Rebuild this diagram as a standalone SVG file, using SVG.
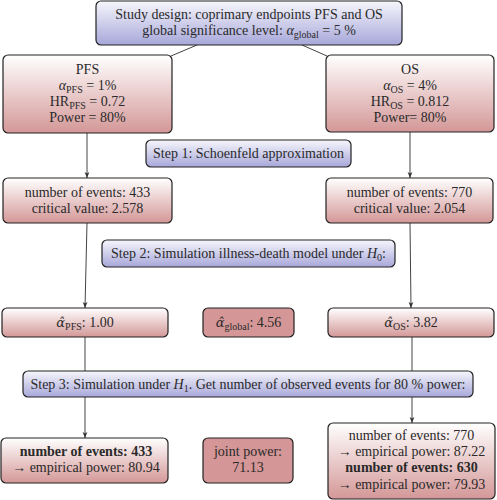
<svg xmlns="http://www.w3.org/2000/svg" width="497" height="500" viewBox="0 0 497 500">
<defs>
<linearGradient id="gRed" x1="0" y1="0" x2="0" y2="1">
<stop offset="0" stop-color="#ffffff"/>
<stop offset="1" stop-color="#d49797"/>
</linearGradient>
<linearGradient id="gBlue" x1="0" y1="0" x2="0" y2="1">
<stop offset="0" stop-color="#f6f6fc"/>
<stop offset="1" stop-color="#a7a7da"/>
</linearGradient>
<marker id="arr" viewBox="0 0 10 10" refX="10" refY="5" markerWidth="6" markerHeight="6" orient="auto" markerUnits="userSpaceOnUse">
<path d="M0,1 L10,5 L0,9 L2.5,5 Z" fill="#333"/>
</marker>
<style>
.red{fill:url(#gRed);stroke:#222;stroke-width:1.2}
.blue{fill:url(#gBlue);stroke:#222;stroke-width:1.2}
.solid{fill:#d49696;stroke:#222;stroke-width:1.2}
text{font-size:14px;fill:#2a2a2a;text-anchor:middle}
.sub{font-size:10px}
.b{font-weight:bold}
.hat{font-family:"DejaVu Serif",serif;font-style:italic;font-size:13px}
.ln{stroke:#444;stroke-width:1;fill:none}
</style>
</defs>
<g id="connectors">
<line class="ln" x1="197" y1="45" x2="171" y2="56"/>
<line class="ln" x1="302" y1="45" x2="327" y2="56"/>
<line class="ln" x1="87" y1="133" x2="87" y2="178" marker-end="url(#arr)"/>
<line class="ln" x1="410" y1="132" x2="410" y2="178" marker-end="url(#arr)"/>
<line class="ln" x1="87" y1="223" x2="85" y2="308" marker-end="url(#arr)"/>
<line class="ln" x1="410" y1="223" x2="411" y2="308" marker-end="url(#arr)"/>
<line class="ln" x1="85" y1="337" x2="85" y2="438" marker-end="url(#arr)"/>
<line class="ln" x1="412" y1="337" x2="412" y2="423" marker-end="url(#arr)"/>
</g>
<g font-family="Liberation Serif, DejaVu Serif, serif">
<g id="design">
<rect class="blue" x="96" y="1" width="306" height="44" rx="5"/>
<text x="249" y="19">Study design:  coprimary endpoints PFS and OS</text>
<text x="249" y="35">global significance level: <tspan font-style="italic">α</tspan><tspan class="sub" dy="3">global</tspan><tspan dy="-3"> = 5 %</tspan></text>
</g>
<g id="pfs">
<rect class="red" x="3" y="55" width="169" height="78" rx="5"/>
<text x="87.5" y="74">PFS</text>
<text x="87.5" y="90"><tspan font-style="italic">α</tspan><tspan class="sub" dy="3">PFS</tspan><tspan dy="-3"> = 1%</tspan></text>
<text x="87.5" y="106">HR<tspan class="sub" dy="3">PFS</tspan><tspan dy="-3"> = 0.72</tspan></text>
<text x="87.5" y="122">Power = 80%</text>
</g>
<g id="os">
<rect class="red" x="326" y="55" width="168" height="77" rx="5"/>
<text x="410" y="74">OS</text>
<text x="410" y="90"><tspan font-style="italic">α</tspan><tspan class="sub" dy="3">OS</tspan><tspan dy="-3"> = 4%</tspan></text>
<text x="410" y="106">HR<tspan class="sub" dy="3">OS</tspan><tspan dy="-3"> = 0.812</tspan></text>
<text x="410" y="122">Power= 80%</text>
</g>
<g id="step1">
<rect class="blue" x="146" y="140" width="205" height="27" rx="5"/>
<text x="248.5" y="158">Step 1: Schoenfeld approximation</text>
</g>
<g id="events-pfs">
<rect class="red" x="3" y="178" width="169" height="45" rx="5"/>
<text x="87.5" y="197">number of events: 433</text>
<text x="87.5" y="213">critical value: 2.578</text>
</g>
<g id="events-os">
<rect class="red" x="326" y="178" width="167" height="45" rx="5"/>
<text x="409.5" y="197">number of events: 770</text>
<text x="409.5" y="213">critical value: 2.054</text>
</g>
<g id="step2">
<rect class="blue" x="102" y="240" width="293" height="27" rx="5"/>
<text x="248.5" y="258">Step 2: Simulation illness-death model under <tspan font-style="italic">H</tspan><tspan class="sub" dy="3">0</tspan><tspan dy="-3">:</tspan></text>
</g>
<g id="alpha-pfs">
<rect class="red" x="2" y="308" width="166" height="29" rx="5"/>
<text x="85" y="327"><tspan class="hat">α̂</tspan><tspan class="sub" dy="3">PFS</tspan><tspan dy="-3">: 1.00</tspan></text>
</g>
<g id="alpha-global">
<rect class="solid" x="203" y="308" width="91" height="29" rx="5"/>
<text x="248.5" y="327"><tspan class="hat">α̂</tspan><tspan class="sub" dy="3">global</tspan><tspan dy="-3">: 4.56</tspan></text>
</g>
<g id="alpha-os">
<rect class="red" x="328" y="308" width="166" height="29" rx="5"/>
<text x="411" y="327"><tspan class="hat">α̂</tspan><tspan class="sub" dy="3">OS</tspan><tspan dy="-3">: 3.82</tspan></text>
</g>
<g id="step3">
<rect class="blue" x="23" y="371" width="450" height="26" rx="5"/>
<text x="248" y="389">Step 3: Simulation under <tspan font-style="italic">H</tspan><tspan class="sub" dy="3">1</tspan><tspan dy="-3">. Get number of observed events for 80 % power:</tspan></text>
</g>
<g id="final-pfs">
<rect class="red" x="1" y="438" width="167" height="45" rx="5"/>
<text x="86" y="456" class="b">number of events: 433</text>
<text x="86" y="472">→ empirical power: 80.94</text>
</g>
<g id="joint">
<rect class="solid" x="203" y="438" width="90" height="45" rx="5"/>
<text x="248" y="456">joint power:</text>
<text x="248" y="472">71.13</text>
</g>
<g id="final-os">
<rect class="red" x="328" y="423" width="167" height="76" rx="5"/>
<text x="411.5" y="440">number of events: 770</text>
<text x="411.5" y="456">→ empirical power: 87.22</text>
<text x="411.5" y="472" class="b">number of events: 630</text>
<text x="411.5" y="489">→ empirical power: 79.93</text>
</g>
</g>
</svg>
